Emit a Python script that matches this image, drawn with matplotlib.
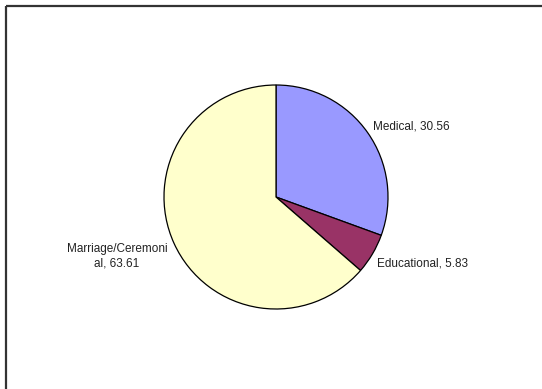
import matplotlib.pyplot as plt

labels = ["Medical", "Educational", "Marriage/Ceremoni\nal"]
values = [30.56, 5.83, 63.61]
colors = ["#9999FF", "#993366", "#FFFFCC"]

W, H = 542, 389
fig = plt.figure(figsize=(W / 100, H / 100), dpi=100)
ax = fig.add_axes([0, 0, 1, 1])

cx, cy, r = 276, H - 197, 112
ax.pie(
    values,
    colors=colors,
    startangle=90,
    counterclock=False,
    center=(cx, cy),
    radius=r,
    frame=True,
    wedgeprops=dict(edgecolor="black", linewidth=0.9),
)
ax.set_xlim(0, W)
ax.set_ylim(0, H)
ax.set_aspect("equal")
ax.axis("off")

# data labels
font = dict(family="Liberation Sans", fontsize=8.5, color="#222222")
ax.text(373, H - 126, f"{labels[0]}, {values[0]:.2f}", ha="left", va="center", **font)
ax.text(377, H - 263, f"{labels[1]}, {values[1]:.2f}", ha="left", va="center", **font)
ax.text(117, H - 256, f"{labels[2]}, {values[2]:.2f}", ha="center", va="center",
        linespacing=1.25, **font)

# chart area border (top and left edges)
ax.plot([6, 6], [0, H - 6], color="#333333", lw=1.6, solid_capstyle="butt")
ax.plot([6, W], [H - 6, H - 6], color="#333333", lw=1.6, solid_capstyle="butt")

fig.savefig("out.png", dpi=100)
